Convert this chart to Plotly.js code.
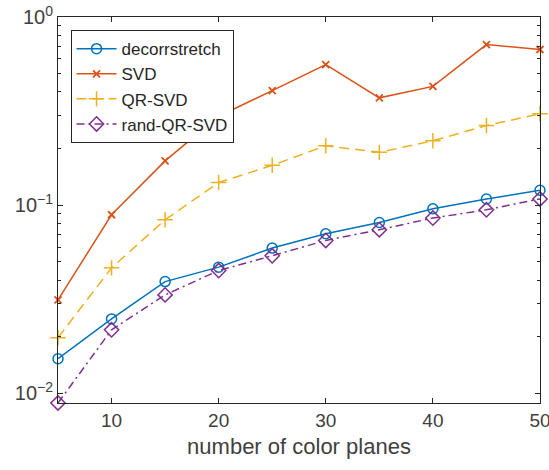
<!DOCTYPE html>
<html>
<head>
<meta charset="utf-8">
<script src="https://cdn.plot.ly/plotly-3.0.1.min.js"></script>
<style>html,body{margin:0;padding:0;background:#fff;}#chart{width:549px;height:470px;}</style>
</head>
<body>
<div id="chart"></div>
<script>
const planes = [5, 10, 15, 20, 25, 30, 35, 40, 45, 50];
const decorrstretch = [0.0153, 0.0249, 0.0393, 0.0469, 0.0592, 0.0706, 0.0810, 0.0958, 0.108, 0.120];
const svd = [0.0314, 0.089, 0.172, 0.297, 0.406, 0.559, 0.372, 0.428, 0.714, 0.672];
const qrSvd = [0.0198, 0.0465, 0.0837, 0.132, 0.163, 0.207, 0.191, 0.220, 0.265, 0.306];
const randQrSvd = [0.0089, 0.0218, 0.0334, 0.0450, 0.0539, 0.0650, 0.0741, 0.0855, 0.0946, 0.108];
const xTicks = [10, 20, 30, 40, 50];
const yTicks = [0.01, 0.1, 1];
const yTickText = ['10<sup>\u22122</sup>', '10<sup>\u22121</sup>', '10<sup>0</sup>'];
const yMinor = [0.009,0.02,0.03,0.04,0.05,0.06,0.07,0.08,0.09,0.2,0.3,0.4,0.5,0.6,0.7,0.8,0.9];

const font = 'Liberation Sans, Arial, Helvetica, sans-serif';
const yRange = [Math.log10(0.0089), 0];
const traces = [
  {x: planes, y: decorrstretch, name: 'decorrstretch', mode: 'lines+markers', cliponaxis: false,
   line: {color: '#0072BD', width: 1.5},
   marker: {symbol: 'circle-open', size: 10, color: '#0072BD', line: {width: 1.5, color: '#0072BD'}}},
  {x: planes, y: svd, name: 'SVD', mode: 'lines+markers', cliponaxis: false,
   line: {color: '#D95319', width: 1.5},
   marker: {symbol: 'x-thin', size: 7, color: '#D95319', line: {width: 1.8, color: '#D95319'}}},
  {x: planes, y: qrSvd, name: 'QR-SVD', mode: 'lines+markers', cliponaxis: false,
   line: {color: '#EDB120', width: 1.5, dash: '10px,6px'},
   marker: {symbol: 'cross-thin', size: 11, color: '#EDB120', line: {width: 1.5, color: '#EDB120'}}},
  {x: planes, y: randQrSvd, name: 'rand-QR-SVD', mode: 'lines+markers', cliponaxis: false,
   line: {color: '#7E2F8E', width: 1.5, dash: '8px,4px,2px,4px'},
   marker: {symbol: 'diamond-open', size: 11, color: '#7E2F8E', line: {width: 1.5, color: '#7E2F8E'}}}
];

const layout = {
  width: 549, height: 470,
  margin: {l: 58, r: 9, t: 17, b: 67},
  paper_bgcolor: '#fff', plot_bgcolor: '#fff',
  font: {family: font, color: '#262626', size: 19},
  showlegend: true,
  legend: {x: 0.026, y: 0.966, xanchor: 'left', yanchor: 'top',
    bgcolor: '#fff', bordercolor: '#262626', borderwidth: 1,
    font: {family: font, size: 17, color: '#262626'}, itemwidth: 40, tracegroupgap: 0},
  xaxis: {range: [5, 50], tickmode: 'array', tickvals: xTicks, ticks: 'inside', ticklen: 5, tickwidth: 1, tickcolor: '#262626',
    ticklabeloverflow: 'allow',
    showline: true, linecolor: '#262626', linewidth: 1, mirror: 'allticks', showgrid: false, zeroline: false,
    tickfont: {family: font, size: 19, color: '#404040'},
    title: {text: 'number of color planes', font: {family: font, size: 22, color: '#404040'}, standoff: 8}},
  yaxis: {type: 'log', range: yRange, tickmode: 'array', tickvals: yTicks, ticktext: yTickText,
    ticks: 'inside', ticklen: 5, tickwidth: 1, tickcolor: '#262626',
    minor: {tickmode: 'array', tickvals: yMinor, ticks: 'inside', ticklen: 3, tickwidth: 1, tickcolor: '#262626'},
    showline: true, linecolor: '#262626', linewidth: 1, mirror: 'allticks', showgrid: false, zeroline: false,
    tickfont: {family: font, size: 20, color: '#404040'}}
};

Plotly.newPlot('chart', traces, layout, {displayModeBar: false, staticPlot: true});
</script>
</body>
</html>
